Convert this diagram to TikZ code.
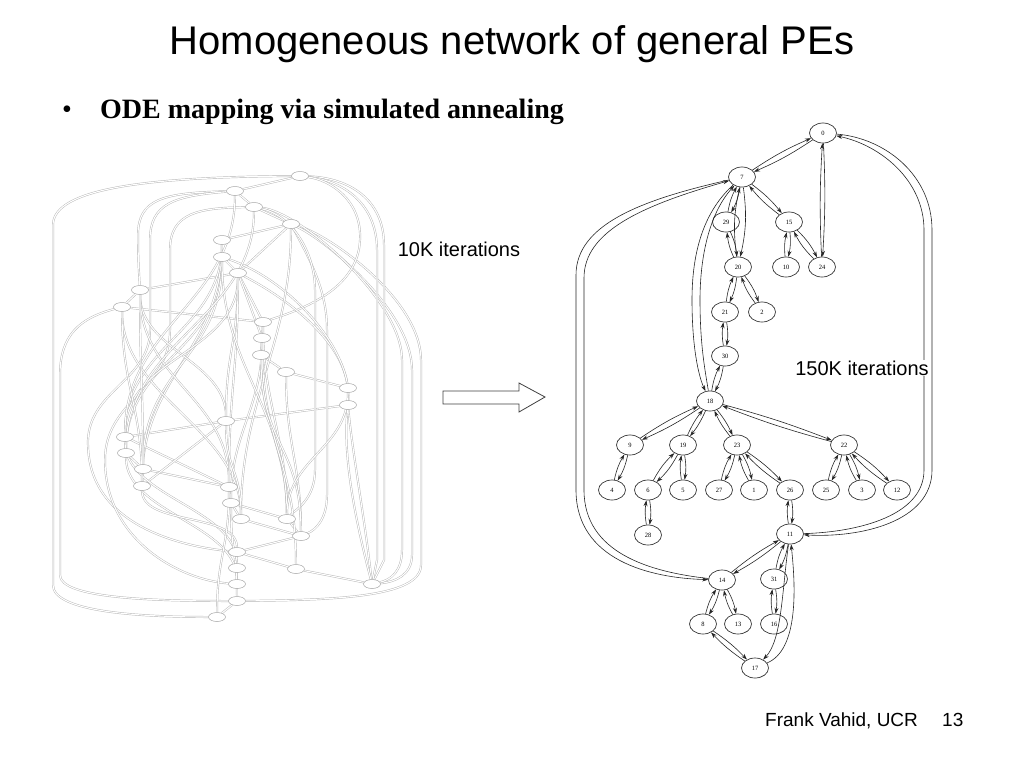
\documentclass[tikz,border=0pt]{standalone}
\usepackage{fontspec}
\setmainfont{Liberation Serif}
\newfontfamily\arialf{Liberation Sans}
\usetikzlibrary{shapes.geometric,arrows.meta,backgrounds}
\newcommand\rpair[3][9]{\draw[redge] (#2) to[bend left=#1] (#3);\draw[redge] (#3) to[bend left=#1] (#2);}
\newcommand\lsc[3]{\draw[ledge] (#1) .. controls +(0,#3) and +(0,-#3) .. (#2);}
\begin{document}
\begin{tikzpicture}[x=1pt,y=-1pt,
  lnode/.style={ellipse, draw=gray!70, line width=0.5pt, minimum width=17pt, minimum height=9pt, inner sep=0pt, fill=white},
  ledge/.style={draw=gray!58, line width=0.45pt, double=white, double distance=1.1pt},
  rnode/.style={ellipse, draw=black!80, line width=0.7pt, minimum width=27pt, minimum height=20pt, inner sep=0pt, fill=white, font=\fontsize{6.5}{6.5}\selectfont},
  redge/.style={draw=black!85, line width=0.6pt, -{Stealth[length=6pt,width=4pt]}},
  txt/.style={font=\arialf\fontsize{20}{20}\selectfont, inner sep=1pt}]
\useasboundingbox (0,0) rectangle (1024,768);

% ---- texts ----
\node[anchor=base] (title) at (512,55) {\arialf\fontsize{40}{40}\selectfont Homogeneous network of general PEs};
\node[anchor=base west, inner sep=0pt] (bul) at (62,118) {\fontsize{28}{28}\selectfont •};
\node[anchor=base west, inner sep=0pt] (sub) at (100,118) {\bfseries\fontsize{28}{28}\selectfont ODE mapping via simulated annealing};
\node[txt, anchor=base] (t10k) at (459,256) {10K iterations};
\node[txt, anchor=base west, inner sep=0pt] (foot) at (765,726) {\fontsize{19}{19}\selectfont Frank Vahid, UCR};
\node[txt, anchor=base west, inner sep=0pt] (pnum) at (942,726) {\fontsize{19}{19}\selectfont 13};

% ---- block arrow ----
\draw[line width=0.8pt, draw=black!75, fill=white] (443,391) -- (519,391) -- (519,383) -- (545,397) -- (519,412) -- (519,404) -- (443,404) -- cycle;

% ---- left graph nodes ----
\node[lnode] (la) at (300,176) {};
\node[lnode] (lb) at (235,191) {};
\node[lnode] (lc) at (254,207) {};
\node[lnode] (ld) at (291,224) {};
\node[lnode] (le) at (222,240) {};
\node[lnode] (lf) at (222,257) {};
\node[lnode] (lg) at (238,273) {};
\node[lnode] (lh) at (140,290) {};
\node[lnode] (li) at (122,307) {};
\node[lnode] (lj) at (263,322) {};
\node[lnode] (lk) at (262,338) {};
\node[lnode] (ll) at (261,355) {};
\node[lnode] (lm) at (286,372) {};
\node[lnode] (ln) at (348,388) {};
\node[lnode] (lo) at (348,405) {};
\node[lnode] (lp) at (226,421) {};
\node[lnode] (lq) at (125,437) {};
\node[lnode] (lr) at (126,453) {};
\node[lnode] (ls) at (143,469) {};
\node[lnode] (lt) at (142,486) {};
\node[lnode] (lu) at (229,487) {};
\node[lnode] (lv) at (231,503) {};
\node[lnode] (lw) at (241,519) {};
\node[lnode] (lx) at (287,519) {};
\node[lnode] (ly) at (301,536) {};
\node[lnode] (lz) at (237,552) {};
\node[lnode] (laa) at (237,568) {};
\node[lnode] (lab) at (296,569) {};
\node[lnode] (lac) at (237,584) {};
\node[lnode] (lad) at (372,584) {};
\node[lnode] (lae) at (237,601) {};
\node[lnode] (laf) at (217,617) {};

\begin{scope}[on background layer]
% short edges
\foreach \a/\b in {la/lb, lb/lc, lc/ld, ld/le, le/lf, lf/lg, lg/ld, lg/lh, lh/li, li/lj, lj/lk, lk/ll, ll/lm, lm/ln, ln/lo, lo/lp, lp/lq, lq/lr, lr/ls, ls/lt, lq/lu, ls/lu, lp/lt, lu/lv, lv/lw, lv/lx, lw/ly, lx/ly, ly/lz, lz/laa, laa/lac, lac/lae, lae/laf, lz/lab, lab/lad, lg/lj, lg/lk}
  {\draw[ledge] (\a) -- (\b);}
% left envelopes
\draw[ledge] (la) .. controls (150,177) and (53,188) .. (53,225) -- (53,585) .. controls (53,612) and (140,617) .. (laf);
\draw[ledge] (li) .. controls (80,318) and (60,335) .. (60,375) -- (60,575) .. controls (60,598) and (150,601) .. (lae);
\draw[ledge] (lb) .. controls (165,193) and (138,198) .. (138,235) .. controls (138,260) and (139,272) .. (lh);
\draw[ledge] (lb) .. controls (175,196) and (150,203) .. (150,240) -- (150,330) .. controls (150,380) and (90,390) .. (88,440) .. controls (86,520) and (170,545) .. (lz);
\draw[ledge] (lc) .. controls (200,208) and (170,212) .. (170,250) -- (170,330) .. controls (170,390) and (105,400) .. (105,460) .. controls (105,540) and (180,580) .. (lac);
% right envelopes
\draw[ledge] (ld) .. controls (330,235) and (421,300) .. (421,360) -- (421,565) .. controls (421,598) and (330,600) .. (lae);
\draw[ledge] (ld) .. controls (325,240) and (412,310) .. (412,370) -- (412,555) .. controls (412,575) and (395,582) .. (lad);
\draw[ledge] (lc) .. controls (300,212) and (402,300) .. (402,360) -- (402,550) .. controls (402,572) and (390,580) .. (lad);
\draw[ledge] (la) .. controls (350,178) and (384,200) .. (384,245) -- (384,560) -- (lad);
\draw[ledge] (la) .. controls (345,181) and (377,205) .. (377,250) -- (377,560) -- (lad);
\draw[ledge] (la) .. controls (330,180) and (362,200) .. (360,240) .. controls (358,290) and (300,310) .. (lj);
\draw[ledge] (ld) .. controls (310,260) and (327,290) .. (327,330) -- (327,495) .. controls (327,520) and (315,530) .. (ly);
\draw[ledge] (lc) .. controls (290,215) and (315,250) .. (315,290) -- (315,470) .. controls (315,500) and (295,510) .. (lx);
\draw[ledge] (lo) .. controls (352,450) and (365,520) .. (lad);
\draw[ledge] (lo) .. controls (342,460) and (358,530) .. (lad);
\draw[ledge] (lg) .. controls (290,300) and (340,340) .. (ln);
\draw[ledge] (lf) .. controls (290,280) and (352,350) .. (lo);
% waves
\lsc{le}{lq}{90}
\lsc{lf}{lr}{90}
\lsc{le}{lt}{110}
\lsc{lf}{ls}{100}
\lsc{lh}{lp}{60}
\lsc{lh}{lu}{90}
\lsc{li}{lw}{90}
\lsc{lg}{lq}{80}
\lsc{lg}{lp}{70}
\lsc{lg}{lu}{100}
\lsc{lk}{lv}{70}
\lsc{ll}{lx}{70}
\lsc{ld}{lw}{120}
\lsc{lm}{ly}{70}
\lsc{lj}{lx}{80}
\lsc{lf}{lx}{110}
\lsc{lb}{lq}{110}
\lsc{lc}{lr}{110}
\lsc{lq}{laa}{60}
\lsc{lr}{lac}{60}
\lsc{lt}{lz}{40}
\lsc{lu}{laf}{60}
\lsc{lv}{lae}{50}
\lsc{li}{lt}{80}
\lsc{lh}{ls}{90}
\lsc{lk}{lab}{110}
\lsc{ll}{ly}{90}
\lsc{lp}{lw}{50}
\lsc{ln}{lx}{60}
\end{scope}

% ---- right graph nodes ----
\node[rnode] (r0) at (823,133) {0};
\node[rnode] (r7) at (742,177) {7};
\node[rnode] (r29) at (726,222) {29};
\node[rnode] (r15) at (789,222) {15};
\node[rnode] (r20) at (738,267) {20};
\node[rnode] (r10) at (786,267) {10};
\node[rnode] (r24) at (822,267) {24};
\node[rnode] (r21) at (725,312) {21};
\node[rnode] (r2) at (762,312) {2};
\node[rnode] (r30) at (725,356) {30};
\node[rnode] (r18) at (710,401) {18};
\node[rnode] (r9) at (630,445) {9};
\node[rnode] (r19) at (683,445) {19};
\node[rnode] (r23) at (737,445) {23};
\node[rnode] (r22) at (844,445) {22};
\node[rnode] (r4) at (612,490) {4};
\node[rnode] (r6) at (648,490) {6};
\node[rnode] (r5) at (683,490) {5};
\node[rnode] (r27) at (719,490) {27};
\node[rnode] (r1) at (754,490) {1};
\node[rnode] (r26) at (790,490) {26};
\node[rnode] (r25) at (826,490) {25};
\node[rnode] (r3) at (862,490) {3};
\node[rnode] (r12) at (897,490) {12};
\node[rnode] (r28) at (648,535) {28};
\node[rnode] (r11) at (790,534) {11};
\node[rnode] (r14) at (722,580) {14};
\node[rnode] (r31) at (774,579) {31};
\node[rnode] (r8) at (703,624) {8};
\node[rnode] (r13) at (738,624) {13};
\node[rnode] (r16) at (774,624) {16};
\node[rnode] (r17) at (755,668) {17};

% ---- right graph edges ----
\rpair[5]{r0}{r7}
\rpair[3]{r0}{r24}
\rpair{r7}{r29}
\rpair[7]{r7}{r15}
\rpair[10]{r7}{r20}
\rpair{r29}{r20}
\rpair{r15}{r10}
\rpair{r15}{r24}
\rpair{r20}{r21}
\rpair{r20}{r2}
\rpair{r21}{r30}
\rpair{r30}{r18}
\rpair[5]{r18}{r9}
\rpair[7]{r18}{r19}
\rpair[7]{r18}{r23}
\rpair[3]{r18}{r22}
\rpair{r9}{r4}
\rpair{r19}{r6}
\rpair{r19}{r5}
\rpair{r23}{r27}
\rpair{r23}{r1}
\rpair[6]{r23}{r26}
\rpair{r22}{r25}
\rpair{r22}{r3}
\rpair[7]{r22}{r12}
\rpair{r6}{r28}
\rpair{r26}{r11}
\rpair[5]{r11}{r14}
\rpair{r11}{r31}
\rpair{r14}{r8}
\rpair{r14}{r13}
\rpair{r31}{r16}
\rpair[6]{r8}{r17}
% long curves
\draw[redge] (r7) .. controls (700,215) and (692,260) .. (692,300) .. controls (692,345) and (698,375) .. (r18);
\draw[redge] (r18) .. controls (705,370) and (700,345) .. (700,300) .. controls (700,260) and (708,215) .. (r7);
\draw[redge] (r7) .. controls (640,200) and (576,225) .. (576,275) -- (576,490) .. controls (576,560) and (650,578) .. (r14);
\draw[redge] (r14) .. controls (650,572) and (584,553) .. (584,490) -- (584,278) .. controls (584,232) and (640,206) .. (r7);
\draw[redge] (r11) .. controls (860,532) and (924,515) .. (924,470) -- (924,230) .. controls (924,180) and (880,145) .. (r0);
\draw[redge] (r0) .. controls (885,138) and (932,175) .. (932,230) -- (932,470) .. controls (932,522) and (860,538) .. (r11);
\draw[redge] (r11) .. controls (782,590) and (782,640) .. (r17);
\draw[redge] (r17) .. controls (798,650) and (796,590) .. (r11);

\node[txt, anchor=base, fill=white] (t150k) at (862,375) {150K iterations};
\end{tikzpicture}
\end{document}
